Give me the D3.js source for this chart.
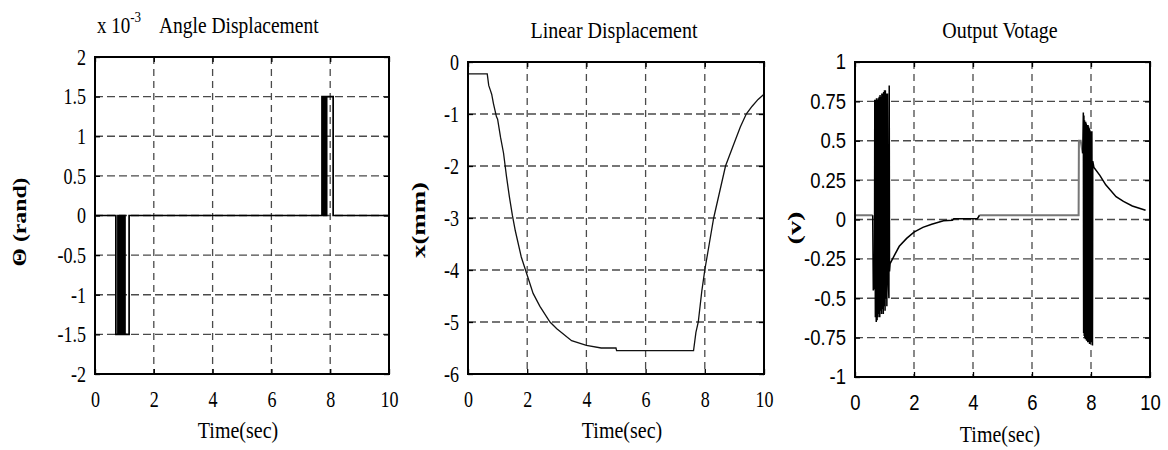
<!DOCTYPE html>
<html>
<head>
<meta charset="utf-8">
<script src="https://cdn.jsdelivr.net/npm/d3@7"></script>
<style>
  body { margin: 0; background: #fff; }
  svg { display: block; }
</style>
</head>
<body>
<svg id="chart" width="1168" height="450"></svg>
<script>
// time axis shared by all three panels
const timeTicks = [0, 2, 4, 6, 8, 10];

// angle displacement (x 1e-3 rad), step signal: value holds until next time
const angleTicks = [-2, -1.5, -1, -0.5, 0, 0.5, 1, 1.5, 2];
const angleT = [0, 0.71, 0.78, 0.80, 0.82, 0.84, 0.86, 0.88, 0.90, 0.92, 0.94, 0.96, 0.98, 1.00, 1.01, 1.02, 1.16,
                7.72, 7.74, 7.76, 7.78, 7.80, 7.82, 7.84, 7.86, 7.88, 8.10, 10];
const angleV = [0, -1.5, 0, -1.5, 0, -1.5, 0, -1.5, 0, -1.5, 0, -1.5, 0, -1.5, 0, -1.5, 0,
                1.5, 0, 1.5, 0, 1.5, 0, 1.5, 0, 1.5, 0, 0];

// linear displacement (mm)
const linTicks = [-6, -5, -4, -3, -2, -1, 0];
const linT = [0, 0.65, 0.7, 0.76, 0.8, 0.86, 0.9, 0.96, 1.0, 1.1, 1.2, 1.3, 1.4, 1.5, 1.6, 1.8, 2.0, 2.2, 2.43, 2.77, 3.0, 3.5, 4.0, 4.5, 5.0, 5.02,
              7.62, 7.7, 7.78, 7.9, 8.0, 8.15, 8.3, 8.5, 8.7, 9.0, 9.2, 9.4, 9.6, 9.8, 9.98];
const linV = [-0.23, -0.23, -0.45, -0.55, -0.62, -0.8, -0.9, -1.05, -1.1, -1.45, -1.75, -2.2, -2.6, -2.95, -3.25, -3.75, -4.1, -4.45, -4.7, -5.0, -5.13, -5.36, -5.45, -5.5, -5.5, -5.55,
              -5.55, -5.2, -5.0, -4.4, -4.0, -3.5, -3.0, -2.5, -2.0, -1.55, -1.25, -1.0, -0.85, -0.72, -0.63];

// output voltage (v): grey baseline pieces and the two black bursts with their decays
const voltTicks = [-1, -0.75, -0.5, -0.25, 0, 0.25, 0.5, 0.75, 1];
const voltBaseT = [0, 0.60, null, 4.22, 7.58, 7.59, 7.65, 7.72];
const voltBaseV = [0.027, 0.027, null, 0.027, 0.027, 0.5, 0.5, 0.42];
const burst1T = [0.60, 0.62, 0.66, 0.67, 0.69, 0.70, 0.72, 0.73, 0.75, 0.76, 0.78, 0.79, 0.81, 0.82, 0.84, 0.85, 0.87, 0.88,
                 0.90, 0.91, 0.93, 0.94, 0.96, 0.97, 0.99, 1.00, 1.02, 1.03, 1.05, 1.06, 1.08, 1.10, 1.12, 1.15, 1.16, 1.17, 1.19,
                 1.3, 1.5, 1.75, 2.0, 2.3, 2.6, 3.0, 3.3, 3.35, 4.15, 4.22];
const burst1V = [0.027, -0.45, -0.42, 0.76, -0.62, 0.76, -0.65, 0.77, -0.64, 0.76, -0.62, 0.77, -0.6, 0.78, -0.62, 0.79, -0.58, 0.78,
                 -0.6, 0.8, -0.57, 0.8, -0.6, 0.81, -0.55, 0.82, -0.58, 0.82, -0.5, 0.8, -0.55, 0.8, -0.35, -0.5, 0.85, -0.33, -0.28,
                 -0.24, -0.17, -0.12, -0.08, -0.05, -0.03, -0.008, -0.005, 0.005, 0.005, 0.027];
const burst2T = [7.72, 7.74, 7.75, 7.76, 7.77, 7.78, 7.79, 7.80, 7.81, 7.82, 7.83, 7.84, 7.85, 7.86, 7.87, 7.88, 7.89, 7.90, 7.91,
                 7.92, 7.93, 7.94, 7.95, 7.96, 7.97, 7.98, 8.00, 8.03, 8.05, 8.06, 8.10, 8.3, 8.5, 8.85, 9.1, 9.4, 9.85];
const burst2V = [0.42, 0.68, -0.72, 0.66, -0.74, 0.63, -0.75, 0.62, -0.76, 0.62, -0.76, 0.61, -0.77, 0.6, -0.77, 0.6, -0.78, 0.6, -0.78,
                 0.59, -0.78, 0.58, -0.79, 0.57, -0.79, 0.56, -0.78, 0.56, -0.8, 0.37, 0.33, 0.28, 0.22, 0.145, 0.115, 0.086, 0.059];

const svg = d3.select('#chart');
svg.append('rect').attr('width', 1168).attr('height', 450).attr('fill', '#fff');

const serif = '"Liberation Serif", "Times New Roman", serif';
const sans = '"Liberation Sans", Arial, sans-serif';

function zip(ts, vs) {
    return ts.map((t, i) => (t === null ? null : [t, vs[i]]));
}

// the source figure is stretched vertically, so text is too
function stretch(sel, sx, sy) {
    sel.each(function() {
        const t = d3.select(this);
        const x = +t.attr('x') || 0, y = +t.attr('y') || 0;
        t.attr('x', 0).attr('y', 0)
            .attr('transform', `translate(${x},${y}) scale(${sx},${sy})`);
    });
}

function panel(o) {
    const g = svg.append('g');
    const x = d3.scaleLinear().domain([0, 10]).range([o.left, o.right]);
    const y = d3.scaleLinear().domain(o.yDomain).range([o.bottom, o.top]);

    // dashed grid
    g.append('g').selectAll('line')
        .data(timeTicks.slice(1, -1))
        .join('line')
        .attr('x1', d => x(d)).attr('x2', d => x(d))
        .attr('y1', o.top).attr('y2', o.bottom)
        .attr('stroke', '#4a4a4a').attr('stroke-width', 1.3)
        .attr('stroke-dasharray', '7,5');
    g.append('g').selectAll('line')
        .data(o.yTicks.slice(1, -1))
        .join('line')
        .attr('y1', d => y(d)).attr('y2', d => y(d))
        .attr('x1', o.left).attr('x2', o.right)
        .attr('stroke', '#4a4a4a').attr('stroke-width', 1.3)
        .attr('stroke-dasharray', '8,4');

    // data
    o.series.forEach(s => {
        const line = d3.line()
            .defined(d => d !== null)
            .x(d => x(d[0]))
            .y(d => y(d[1]));
        if (s.step) line.curve(d3.curveStepAfter);
        g.append('path')
            .datum(s.data)
            .attr('fill', 'none')
            .attr('stroke', s.color)
            .attr('stroke-width', s.width)
            .attr('d', line);
    });

    // axes with inward ticks on all four sides
    const bottomAxis = g.append('g')
        .attr('transform', `translate(0,${o.bottom})`)
        .call(d3.axisBottom(x).tickValues(timeTicks).tickSize(-5).tickPadding(o.xPad).tickFormat(d => String(d)));
    const leftAxis = g.append('g')
        .attr('transform', `translate(${o.left},0)`)
        .call(d3.axisLeft(y).tickValues(o.yTicks).tickSize(-5).tickPadding(9).tickFormat(d => String(d)));
    g.append('g')
        .attr('transform', `translate(0,${o.top})`)
        .call(d3.axisTop(x).tickValues(timeTicks).tickSize(-5).tickFormat(''));
    g.append('g')
        .attr('transform', `translate(${o.right},0)`)
        .call(d3.axisRight(y).tickValues(o.yTicks).tickSize(-5).tickFormat(''));

    g.selectAll('.domain').remove();
    g.selectAll('.tick line').attr('stroke', '#000').attr('stroke-width', 1.3);
    [bottomAxis, leftAxis].forEach(a => {
        const txt = a.selectAll('text')
            .attr('fill', '#000')
            .style('font-family', o.tickFont)
            .style('font-size', o.tickSize + 'px');
        stretch(txt, o.tickSx, o.tickSy);
    });

    g.append('rect')
        .attr('x', o.left).attr('y', o.top)
        .attr('width', o.right - o.left).attr('height', o.bottom - o.top)
        .attr('fill', 'none').attr('stroke', '#000').attr('stroke-width', 2);

    // title
    const title = g.append('text')
        .attr('x', o.titleX).attr('y', o.titleY)
        .attr('text-anchor', o.titleAnchor || 'middle')
        .style('font-family', serif).style('font-size', o.titleSize + 'px')
        .text(o.title);
    stretch(title, 1, 1.2);

    // x label
    const xl = g.append('text')
        .attr('x', o.xLabelX).attr('y', o.xLabelY)
        .attr('text-anchor', 'middle')
        .style('font-family', serif).style('font-size', '20px')
        .text('Time(sec)');
    stretch(xl, 1, 1.12);

    // y label
    g.append('text')
        .attr('transform', `translate(${o.yLabelX},${o.yLabelY}) rotate(-90)`)
        .attr('text-anchor', 'middle')
        .attr('textLength', o.yLabelLen)
        .attr('lengthAdjust', 'spacingAndGlyphs')
        .style('font-family', serif).style('font-size', '18px').style('font-weight', 'bold')
        .text(o.yLabel);

    return g;
}

const p1 = panel({
    left: 95, right: 389, top: 57, bottom: 374,
    yDomain: [-2, 2], yTicks: angleTicks,
    tickFont: serif, tickSize: 19, tickSx: 0.95, tickSy: 1.2, xPad: 17,
    series: [{ data: zip(angleT, angleV), color: '#000', width: 1.7, step: true }],
    title: 'Angle Displacement', titleX: 159, titleY: 33, titleAnchor: 'start', titleSize: 19.5,
    xLabelX: 238, xLabelY: 438,
    yLabel: 'Θ (rand)', yLabelX: 26, yLabelY: 222, yLabelLen: 89
});
// exponent above the axis
const expo = p1.append('text')
    .attr('x', 97).attr('y', 33)
    .style('font-family', serif).style('font-size', '19px');
expo.append('tspan').text('x 10');
expo.append('tspan').attr('dy', -9.5).style('font-size', '13px').text('-3');
stretch(expo, 1, 1.2);

panel({
    left: 468, right: 764, top: 62, bottom: 374,
    yDomain: [-6, 0], yTicks: linTicks,
    tickFont: serif, tickSize: 19, tickSx: 0.95, tickSy: 1.2, xPad: 17,
    series: [{ data: zip(linT, linV), color: '#111', width: 1.3 }],
    title: 'Linear Displacement', titleX: 614, titleY: 38, titleSize: 20,
    xLabelX: 622, xLabelY: 438,
    yLabel: 'x(mm)', yLabelX: 425, yLabelY: 220, yLabelLen: 76
});

panel({
    left: 855, right: 1150, top: 62, bottom: 377,
    yDomain: [-1, 1], yTicks: voltTicks,
    tickFont: sans, tickSize: 19, tickSx: 0.97, tickSy: 1.15, xPad: 17,
    series: [
        { data: zip(voltBaseT, voltBaseV), color: '#777', width: 2 },
        { data: zip(burst1T, burst1V), color: '#000', width: 1.5 },
        { data: zip(burst2T, burst2V), color: '#000', width: 1.5 }
    ],
    title: 'Output Votage', titleX: 1000, titleY: 38, titleSize: 20,
    xLabelX: 1000, xLabelY: 442,
    yLabel: '(v)', yLabelX: 801, yLabelY: 228, yLabelLen: 33
});
</script>
</body>
</html>
